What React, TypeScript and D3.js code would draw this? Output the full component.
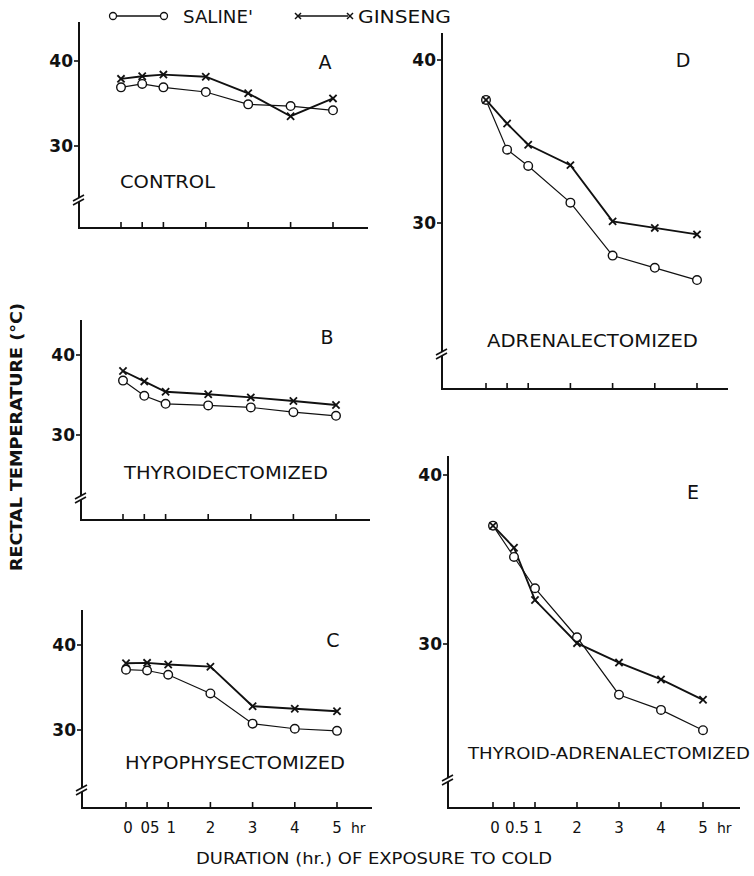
import React from "react";
import * as d3 from "d3";

const hours = [0, 0.5, 1, 2, 3, 4, 5];
const yTicks = [30, 40];
const panelIds = ["A", "B", "C", "D", "E"];
const panelNames = ["CONTROL", "THYROIDECTOMIZED", "HYPOPHYSECTOMIZED", "ADRENALECTOMIZED", "THYROID-ADRENALECTOMIZED"];

const salineA = [36.9, 37.3, 36.9, 36.35, 34.9, 34.7, 34.2];
const ginsengA = [37.9, 38.2, 38.4, 38.15, 36.2, 33.5, 35.6];
const salineB = [36.8, 34.9, 33.9, 33.7, 33.45, 32.85, 32.4];
const ginsengB = [38.0, 36.7, 35.4, 35.1, 34.7, 34.25, 33.75];
const salineC = [37.1, 37.0, 36.5, 34.3, 30.75, 30.15, 29.9];
const ginsengC = [37.85, 37.9, 37.7, 37.45, 32.8, 32.5, 32.2];
const salineD = [37.55, 34.5, 33.5, 31.25, 28.0, 27.25, 26.5];
const ginsengD = [37.55, 36.1, 34.8, 33.55, 30.1, 29.7, 29.3];
const salineE = [37.0, 35.15, 33.3, 30.4, 27.0, 26.1, 24.9];
const ginsengE = [37.0, 35.7, 32.6, 30.05, 28.9, 27.9, 26.7];

const xLabelsC = ["0", "05", "1", "2", "3", "4", "5"];
const xLabelsE = ["0", "0.5", "1", "2", "3", "4", "5"];

const salines = [salineA, salineB, salineC, salineD, salineE];
const ginsengs = [ginsengA, ginsengB, ginsengC, ginsengD, ginsengE];

// layout (pixels)
const geo = [
  { ax: 79, top: 22, base: 228, y40: 61, y30: 146, x0: 121, x5: 333, xEnd: 368, brk: 200, lx: 325, ly: 69, nx: 120, ny: 188, nw: 95, ns: 17 },
  { ax: 81, top: 320, base: 520, y40: 355, y30: 435, x0: 123, x5: 336, xEnd: 370, brk: 498, lx: 327, ly: 344, nx: 124, ny: 479, nw: 204, ns: 17 },
  { ax: 82, top: 610, base: 808, y40: 645, y30: 730, x0: 126, x5: 337, xEnd: 372, brk: 790, lx: 333, ly: 647, nx: 125, ny: 769, nw: 220, ns: 17 },
  { ax: 442, top: 33, base: 389, y40: 60, y30: 223, x0: 486, x5: 697, xEnd: 728, brk: 354, lx: 683, ly: 67, nx: 487, ny: 347, nw: 211, ns: 17 },
  { ax: 448, top: 456, base: 808, y40: 475, y30: 644, x0: 493, x5: 703, xEnd: 740, brk: 780, lx: 693, ly: 499, nx: 468, ny: 759, nw: 282, ns: 15 },
];

const FONT = "'DejaVu Sans', 'Liberation Sans', sans-serif";

function Cross({ x, y, s = 3.6, w = 1.8 }: { x: number; y: number; s?: number; w?: number }) {
  return (
    <g stroke="#111" strokeWidth={w}>
      <line x1={x - s} y1={y - s} x2={x + s} y2={y + s} />
      <line x1={x - s} y1={y + s} x2={x + s} y2={y - s} />
    </g>
  );
}

function Panel({ i }: { i: number }) {
  const g = geo[i];
  const x = d3.scaleLinear().domain([0, 5]).range([g.x0, g.x5]);
  const y = d3.scaleLinear().domain([30, 40]).range([g.y30, g.y40]);
  const line = d3
    .line<number>()
    .x((_, k) => x(hours[k]))
    .y((v) => y(v));
  const sal = salines[i];
  const gin = ginsengs[i];
  const labels = i === 2 ? xLabelsC : i === 4 ? xLabelsE : null;
  return (
    <g>
      {/* axes */}
      <line x1={g.ax} y1={g.top} x2={g.ax} y2={g.base} stroke="#111" strokeWidth={2} />
      <line x1={g.ax - 1} y1={g.base} x2={g.xEnd} y2={g.base} stroke="#111" strokeWidth={2} />
      {/* axis break */}
      <rect x={g.ax - 3} y={g.brk - 2} width={6} height={4} fill="#fff" />
      <line x1={g.ax - 6} y1={g.brk + 1} x2={g.ax + 5} y2={g.brk - 5} stroke="#111" strokeWidth={1.6} />
      <line x1={g.ax - 6} y1={g.brk + 5} x2={g.ax + 5} y2={g.brk - 1} stroke="#111" strokeWidth={1.6} />
      {/* y ticks */}
      {yTicks.map((t) => (
        <g key={t}>
          <line x1={g.ax - 5} y1={y(t)} x2={g.ax} y2={y(t)} stroke="#111" strokeWidth={1.6} />
          <text x={g.ax - 6} y={y(t) + 6} textAnchor="end" fontSize={17} fontWeight={600} fontFamily={FONT} fill="#111">
            {t}
          </text>
        </g>
      ))}
      {/* x ticks */}
      {hours.map((h) => (
        <line key={h} x1={x(h)} y1={g.base} x2={x(h)} y2={g.base - 6} stroke="#111" strokeWidth={1.6} />
      ))}
      {labels &&
        labels.map((l, k) => (
          <text
            key={k}
            x={x(hours[k]) + (k === 0 ? 2 : k === 1 ? 3 : k === 2 ? 3 : 0)}
            y={g.base + 25}
            textAnchor="middle"
            fontSize={15}
            fontFamily={FONT}
            fill="#111"
          >
            {l}
          </text>
        ))}
      {labels && (
        <text x={x(5) + 14} y={g.base + 25} fontSize={14} fontFamily={FONT} fill="#111">
          hr
        </text>
      )}
      {/* series */}
      <path d={line(sal) || ""} fill="none" stroke="#111" strokeWidth={1.2} />
      <path d={line(gin) || ""} fill="none" stroke="#111" strokeWidth={1.9} />
      {sal.map((v, k) => (
        <circle key={k} cx={x(hours[k])} cy={y(v)} r={4.3} fill="#fff" stroke="#111" strokeWidth={1.4} />
      ))}
      {gin.map((v, k) => (
        <Cross key={k} x={x(hours[k])} y={y(v)} />
      ))}
      {/* labels */}
      <text x={g.lx} y={g.ly} textAnchor="middle" fontSize={19} fontFamily={FONT} fill="#111">
        {panelIds[i]}
      </text>
      <text
        x={g.nx}
        y={g.ny}
        fontSize={g.ns}
        fontFamily={FONT}
        fontWeight={i === 4 ? 400 : 500}
        fill="#111"
        textLength={g.nw}
        lengthAdjust="spacingAndGlyphs"
      >
        {panelNames[i]}
      </text>
    </g>
  );
}

export default function App() {
  return (
    <svg width={754} height={876} style={{ position: "absolute", left: 0, top: 0, background: "#fff" }}>
      <rect width={754} height={876} fill="#fff" />
      {/* legend */}
      <line x1={113} y1={16} x2={163} y2={16} stroke="#111" strokeWidth={1.3} />
      <circle cx={113} cy={16} r={3.5} fill="#fff" stroke="#111" strokeWidth={1.3} />
      <circle cx={164} cy={16} r={3.5} fill="#fff" stroke="#111" strokeWidth={1.3} />
      <text x={183} y={23} fontSize={17} fontFamily={FONT} fill="#111" textLength={70} lengthAdjust="spacingAndGlyphs">
        SALINE'
      </text>
      <line x1={298} y1={16} x2={348} y2={16} stroke="#111" strokeWidth={1.6} />
      <Cross x={298} y={16} s={3} w={1.5} />
      <Cross x={350} y={16} s={3} w={1.5} />
      <text x={358} y={23} fontSize={17} fontFamily={FONT} fill="#111" textLength={93} lengthAdjust="spacingAndGlyphs">
        GINSENG
      </text>
      {/* y title */}
      <text
        transform="translate(22,437) rotate(-90)"
        textAnchor="middle"
        fontSize={16}
        fontWeight={600}
        fontFamily={FONT}
        fill="#111"
        textLength={268}
        lengthAdjust="spacingAndGlyphs"
      >
        RECTAL TEMPERATURE (°C)
      </text>
      {/* x title */}
      <text x={196} y={864} fontSize={15} fontFamily={FONT} fill="#111" textLength={356} lengthAdjust="spacingAndGlyphs">
        DURATION (hr.) OF EXPOSURE TO COLD
      </text>
      {panelIds.map((_, i) => (
        <Panel key={i} i={i} />
      ))}
    </svg>
  );
}
